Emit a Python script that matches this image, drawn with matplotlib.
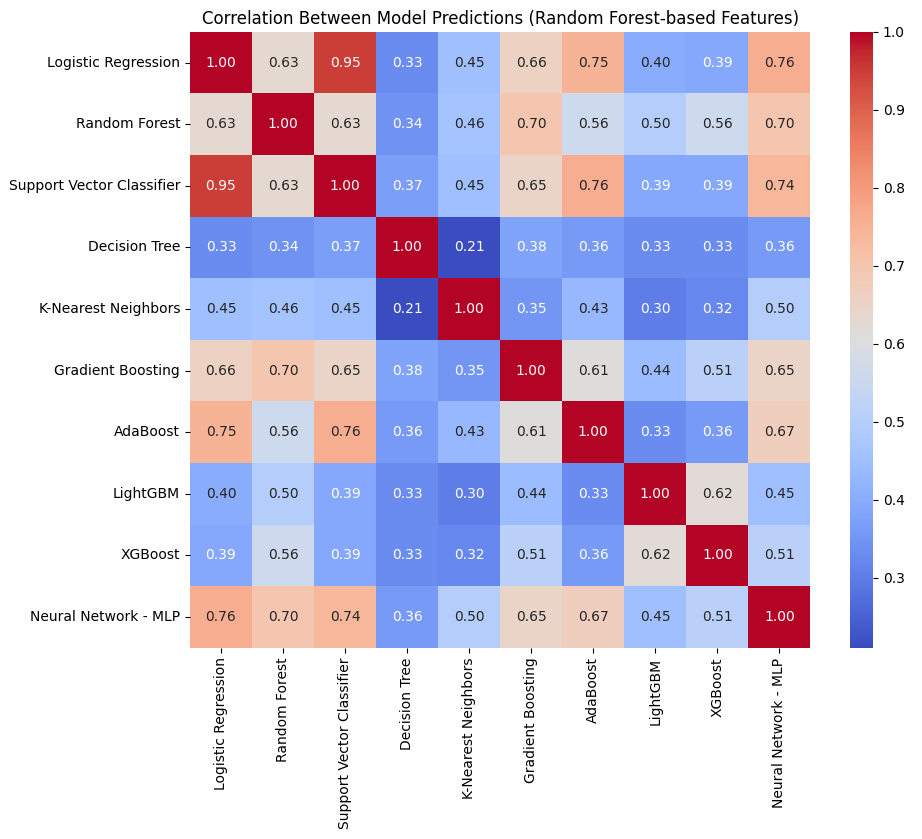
import matplotlib
matplotlib.use("Agg")
import matplotlib.pyplot as plt
import seaborn as sns
import numpy as np
import pandas as pd

models = ["Logistic Regression", "Random Forest", "Support Vector Classifier",
          "Decision Tree", "K-Nearest Neighbors", "Gradient Boosting",
          "AdaBoost", "LightGBM", "XGBoost", "Neural Network - MLP"]

row_lr  = [1.00, 0.63, 0.95, 0.33, 0.45, 0.66, 0.75, 0.40, 0.39, 0.76]
row_rf  = [0.63, 1.00, 0.63, 0.34, 0.46, 0.70, 0.56, 0.50, 0.56, 0.70]
row_svc = [0.95, 0.63, 1.00, 0.37, 0.45, 0.65, 0.76, 0.39, 0.39, 0.74]
row_dt  = [0.33, 0.34, 0.37, 1.00, 0.21, 0.38, 0.36, 0.33, 0.33, 0.36]
row_knn = [0.45, 0.46, 0.45, 0.21, 1.00, 0.35, 0.43, 0.30, 0.32, 0.50]
row_gb  = [0.66, 0.70, 0.65, 0.38, 0.35, 1.00, 0.61, 0.44, 0.51, 0.65]
row_ada = [0.75, 0.56, 0.76, 0.36, 0.43, 0.61, 1.00, 0.33, 0.36, 0.67]
row_lgb = [0.40, 0.50, 0.39, 0.33, 0.30, 0.44, 0.33, 1.00, 0.62, 0.45]
row_xgb = [0.39, 0.56, 0.39, 0.33, 0.32, 0.51, 0.36, 0.62, 1.00, 0.51]
row_mlp = [0.76, 0.70, 0.74, 0.36, 0.50, 0.65, 0.67, 0.45, 0.51, 1.00]

corr = pd.DataFrame([row_lr, row_rf, row_svc, row_dt, row_knn, row_gb,
                     row_ada, row_lgb, row_xgb, row_mlp],
                    index=models, columns=models)

fig = plt.figure(figsize=(9.22, 8.39), dpi=100)
ax = fig.add_axes([0.206, 0.228, 0.673, 0.734])
cax = fig.add_axes([0.922, 0.228, 0.025, 0.734])

sns.heatmap(corr, annot=True, fmt=".2f", cmap="coolwarm", ax=ax, cbar_ax=cax,
            annot_kws={"fontsize": 10})
ax.set_title("Correlation Between Model Predictions (Random Forest-based Features)",
             fontsize=12)
ax.tick_params(axis="both", labelsize=10)
plt.setp(ax.get_xticklabels(), rotation=90)
plt.setp(ax.get_yticklabels(), rotation=0)
cax.tick_params(labelsize=10)

fig.savefig("out.png", dpi=100)
